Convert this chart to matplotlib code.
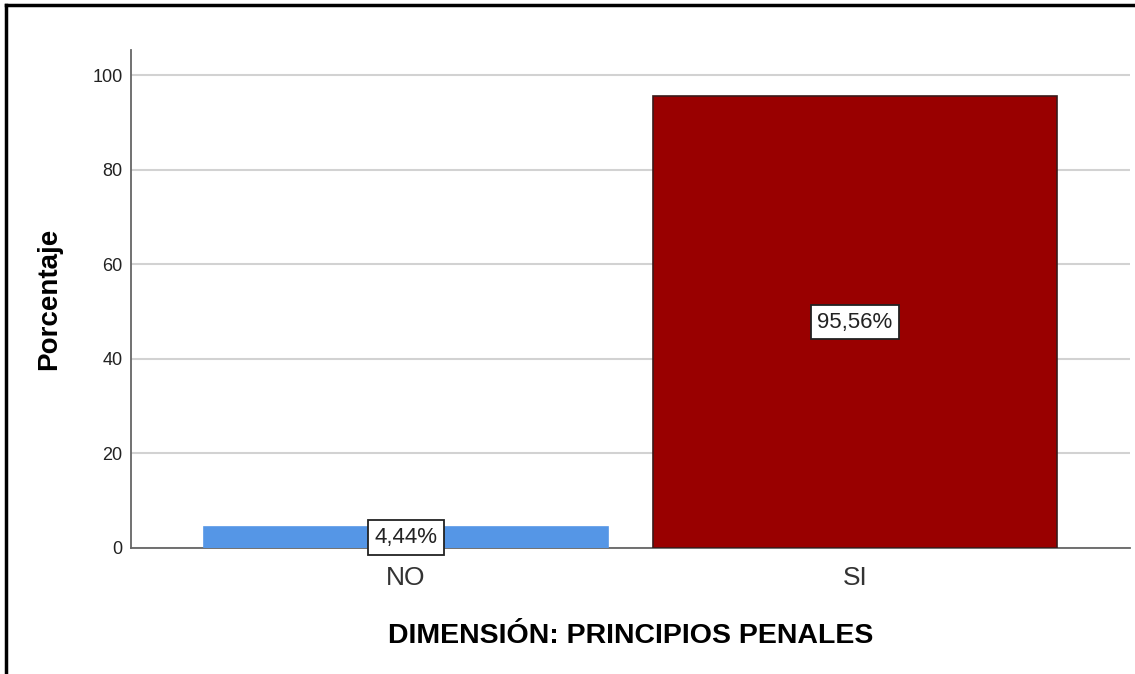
import matplotlib.pyplot as plt
import numpy as np

plt.rcParams['font.family'] = ['Liberation Sans', 'DejaVu Sans']

categories = ['NO', 'SI']
percent = [4.44, 95.56]
labels = ['4,44%', '95,56%']
colors = ['#5596e6', '#990000']
edges = ['#5596e6', '#3a1a1a']

fig = plt.figure(figsize=(11.35, 6.74), dpi=100)
ax = fig.add_axes([0.1154, 0.187, 0.8802, 0.7388])

x = np.arange(len(categories))
bars = ax.bar(x, percent, width=0.9, color=colors, edgecolor=edges, linewidth=1.2, zorder=3)

# value boxes in the middle of each bar
for b, lab in zip(bars, labels):
    ax.text(b.get_x() + b.get_width() / 2, b.get_height() / 2, lab,
            ha='center', va='center', fontsize=16, color='#222222', zorder=4,
            bbox=dict(boxstyle='square,pad=0.3', fc='white', ec='#222222', lw=1.3))

ax.set_xlim(-0.612, 1.612)
ax.set_ylim(0, 105.3)
ax.set_yticks([0, 20, 40, 60, 80, 100])
ax.set_xticks(x)
ax.set_xticklabels(categories)
ax.tick_params(axis='y', length=0, labelsize=13, pad=6, labelcolor='#222222')
ax.tick_params(axis='x', length=0, labelsize=19, pad=13, labelcolor='#333333')
ax.yaxis.grid(True, color='#d2d2d2', linewidth=1.5, zorder=0)
ax.set_axisbelow(True)

for s in ['top', 'right']:
    ax.spines[s].set_visible(False)
for s in ['left', 'bottom']:
    ax.spines[s].set_color('#666666')
    ax.spines[s].set_linewidth(1.3)

ax.set_ylabel('Porcentaje', fontsize=20, fontweight='bold', labelpad=22)
ax.set_xlabel('DIMENSIÓN: PRINCIPIOS PENALES', fontsize=20.5, fontweight='bold', labelpad=24)

# frame lines on left and top of the picture
fig.add_artist(plt.Line2D([0.005, 0.005], [0, 0.993], color='black', lw=2.5, transform=fig.transFigure))
fig.add_artist(plt.Line2D([0.005, 1], [0.993, 0.993], color='black', lw=2.5, transform=fig.transFigure))

fig.savefig('out.png', dpi=100)
